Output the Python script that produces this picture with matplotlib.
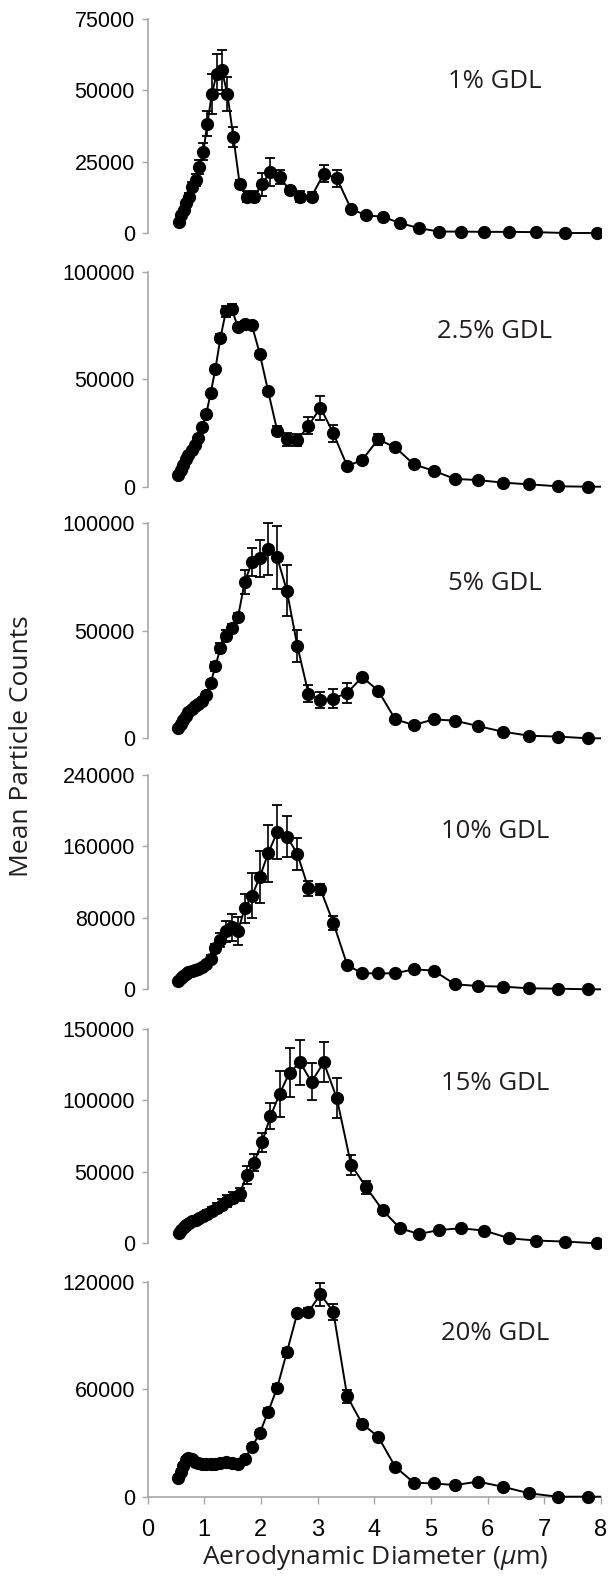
import matplotlib
matplotlib.use("Agg")
import matplotlib.pyplot as plt
from matplotlib.patches import Rectangle

plt.rcParams['font.family'] = ['Liberation Sans', 'DejaVu Sans']
plt.rcParams['mathtext.fontset'] = 'custom'
plt.rcParams['mathtext.rm'] = 'Open Sans'
plt.rcParams['mathtext.it'] = 'Open Sans:italic'

# APS channel midpoints (um)
diam = [0.542, 0.583, 0.626, 0.673, 0.723, 0.777, 0.835, 0.898, 0.965, 1.037,
        1.114, 1.197, 1.286, 1.382, 1.486, 1.596, 1.715, 1.843, 1.981, 2.129,
        2.288, 2.458, 2.642, 2.839, 3.051, 3.278, 3.523, 3.786, 4.068, 4.371,
        4.698, 5.048, 5.425, 5.829, 6.264, 6.732, 7.234, 7.774, 8.354]

gdl_1 = [4100, 6400, 8100, 10500, 12800, 16300, 18600, 23300, 28500, 38400,
         48800, 55800, 57200, 48800, 33700, 17200, 12800, 12800, 17200, 21500,
         19800, 15100, 12800, 12800, 20900, 19200, 8500, 6300, 5800, 3600,
         1800, 600, 600, 500, 500, 400, 100, 100, 0]
err_1 = [400, 500, 700, 900, 1200, 1500, 2000, 2500, 3000, 4500,
         7000, 7000, 7000, 6000, 3500, 1500, 2000, 2000, 4000, 4800,
         2500, 1500, 2000, 1500, 3000, 2900, 800, 500, 400, 300,
         300, 200, 200, 200, 200, 200, 100, 100, 0]

gdl_2_5 = [5500, 7700, 10000, 12800, 14700, 17000, 19500, 22500, 27900, 33900,
           43500, 54700, 69100, 81500, 82600, 74200, 75800, 75000, 61800, 44300,
           26100, 22000, 21700, 28300, 36800, 24800, 9600, 12400, 22000, 18300,
           10400, 7400, 3600, 3100, 1900, 1100, 200, 0, 0]
err_2_5 = [600, 700, 800, 800, 800, 900, 900, 1000, 1000, 1200,
           1200, 1500, 1800, 2500, 2500, 1500, 1500, 1500, 1500, 1500,
           2000, 3000, 3000, 4000, 5600, 3800, 1000, 1500, 2500, 1500,
           1000, 800, 500, 500, 400, 300, 200, 100, 0]

gdl_5 = [5000, 6800, 8700, 10600, 12300, 13700, 14800, 16000, 17500, 20000,
         25700, 33400, 42000, 47700, 51200, 56400, 72700, 82000, 83800, 88100,
         84100, 68700, 43100, 20800, 17700, 18500, 21100, 28500, 22200, 8800,
         6200, 8800, 8200, 5700, 3100, 1200, 800, 0, 0]
err_5 = [500, 600, 700, 800, 900, 1000, 1000, 1100, 1200, 1500,
         1500, 2000, 2500, 2500, 2000, 2000, 5400, 6400, 8600, 12000,
         14500, 12000, 7500, 3800, 3800, 4500, 4500, 1500, 1000, 500,
         500, 500, 400, 400, 300, 300, 200, 100, 0]

gdl_10 = [9500, 12500, 15000, 17500, 19500, 21000, 22000, 23000, 24500, 28000,
          34300, 45700, 55200, 64800, 69300, 65500, 90700, 104800, 125700, 152400,
          176000, 171000, 152000, 113000, 112000, 74500, 27200, 17900, 17900, 17900,
          22400, 20900, 5600, 3700, 3000, 1100, 700, 0, 0]
err_10 = [1000, 1000, 1200, 1200, 1500, 1500, 1500, 1500, 2000, 3000,
          4000, 5000, 8000, 12000, 15000, 16000, 16000, 25000, 29000, 32000,
          30000, 23000, 18000, 8000, 6000, 8000, 2000, 1000, 1000, 1000,
          1000, 1000, 800, 500, 500, 400, 300, 100, 0]

gdl_15 = [7000, 9500, 11500, 13000, 14500, 15500, 16500, 17800, 19000, 20500,
          22500, 24500, 27000, 29500, 32000, 34400, 47800, 56500, 70600, 88900,
          104700, 119500, 126600, 113000, 126600, 101400, 55000, 39200, 23300, 10500,
          6500, 9300, 10500, 8900, 3500, 1900, 1200, 0, 0]
err_15 = [1000, 1000, 1200, 1500, 1500, 1800, 2000, 2000, 2500, 2500,
          3000, 3500, 4000, 4000, 4000, 4500, 6000, 6000, 6500, 9000,
          16000, 17000, 16000, 13000, 14000, 14000, 7000, 4500, 3000, 1500,
          800, 800, 800, 800, 600, 500, 400, 100, 0]

gdl_20 = [10500, 13700, 17400, 20500, 21700, 21000, 19500, 18700, 18200, 18000,
          18000, 18300, 19000, 19500, 18700, 18000, 21200, 27700, 35600, 47400,
          60900, 80600, 102400, 103100, 113000, 103200, 56000, 40700, 33500, 16700,
          7800, 7400, 6500, 8400, 5600, 1900, 0, 0, 0]
err_20 = [1500, 1500, 1500, 1500, 1500, 1500, 1500, 1500, 1500, 1500,
          1500, 1500, 1500, 1500, 1500, 1500, 1500, 1500, 1500, 2000,
          2000, 2500, 2000, 2500, 6500, 4500, 3500, 2000, 1500, 1500,
          800, 800, 800, 800, 800, 500, 300, 100, 0]

panel_labels = ['1% GDL', '2.5% GDL', '5% GDL', '10% GDL', '15% GDL', '20% GDL']
series = [gdl_1, gdl_2_5, gdl_5, gdl_10, gdl_15, gdl_20]
errors = [err_1, err_2_5, err_5, err_10, err_15, err_20]
y_max = [75000, 100000, 100000, 240000, 150000, 120000]
y_step = [25000, 50000, 50000, 80000, 50000, 60000]
x_max = [7.85, 8, 8, 8, 7.85, 8]

# layout (pixels of the 611 x 1577 image)
W, H = 611, 1577
ax_left, ax_right = 147.5, 601
ax_tops = [19, 271.7, 523.3, 775, 1029, 1281.7]
ax_bottoms = [233.3, 486.7, 738.3, 989.3, 1243.3, 1496.7]
label_y = [0.71, 0.72, 0.72, 0.735, 0.745, 0.76]

axis_grey = '#a6a6a6'

fig = plt.figure(figsize=(W / 100, H / 100), dpi=100)

for i in range(6):
    ax = fig.add_axes([ax_left / W, 1 - ax_bottoms[i] / H,
                       (ax_right - ax_left) / W, (ax_bottoms[i] - ax_tops[i]) / H])
    ax.set_xlim(0, x_max[i])
    ax.set_ylim(0, y_max[i])
    ax.set_yticks(range(0, y_max[i] + 1, y_step[i]))
    for s in ['top', 'right']:
        ax.spines[s].set_visible(False)
    ax.spines['left'].set_color(axis_grey)
    ax.spines['left'].set_linewidth(1.2)
    ax.tick_params(axis='y', direction='out', length=4, width=1, color=axis_grey,
                   labelsize=15.5, pad=5)
    if i < 5:
        ax.spines['bottom'].set_visible(False)
        ax.set_xticks([])
    else:
        ax.spines['bottom'].set_color(axis_grey)
        ax.spines['bottom'].set_linewidth(1.2)
        ax.set_xticks(range(0, 9))
        ax.tick_params(axis='x', direction='out', length=5, width=1, color=axis_grey,
                       labelsize=17, pad=11)
    ax.patch.set_alpha(0)

    cont = ax.errorbar(diam, series[i], yerr=errors[i], fmt='-o', color='black',
                       ms=8.5, lw=1.4, elinewidth=1.2, capsize=3.5, capthick=1.3,
                       zorder=3)
    clip = Rectangle((0, -0.1), 1, 1.2, transform=ax.transAxes, visible=False)
    ax.add_patch(clip)
    for art in [cont.lines[0]] + list(cont.lines[1]) + list(cont.lines[2]):
        art.set_clip_path(clip)

    ax.text(0.766, label_y[i], panel_labels[i], transform=ax.transAxes,
            ha='center', va='center', fontsize=18.5, family='Open Sans', color='#231f20')

fig.text(22 / W, 1 - 746 / H, 'Mean Particle Counts', rotation=90, ha='center',
         va='center', fontsize=19, family='Open Sans', color='#231f20')
fig.text(375 / W, 1 - 1558 / H, r'Aerodynamic Diameter ($\mu$m)', ha='center',
         va='center', fontsize=19, family='Open Sans', color='#231f20')

fig.savefig('out.png', dpi=100)
